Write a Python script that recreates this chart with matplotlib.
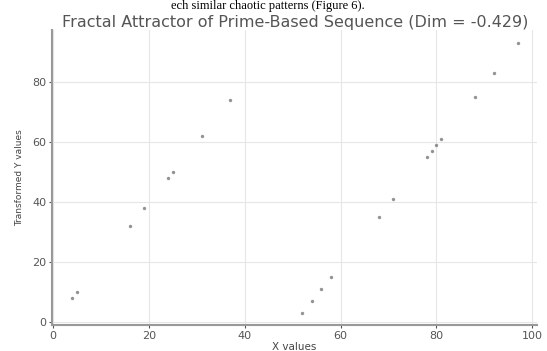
import matplotlib
matplotlib.use("Agg")
import matplotlib.pyplot as plt

x_vals = [4, 5, 16, 19, 24, 25, 31, 37, 52, 54, 56, 58, 68, 71, 78, 79, 80, 81, 88, 92, 97]
y_vals = [8, 10, 32, 38, 48, 50, 62, 74, 3, 7, 11, 15, 35, 41, 55, 57, 59, 61, 75, 83, 93]
x_ticks = [0, 20, 40, 60, 80, 100]
y_ticks = [0, 20, 40, 60, 80]
title = "Fractal Attractor of Prime-Based Sequence (Dim = -0.429)"

W, H = 547, 351
fig = plt.figure(figsize=(W / 100, H / 100), dpi=100)
L, R, B, T = 52, 537, 325, 30
ax = fig.add_axes([L / W, 1 - B / H, (R - L) / W, (B - T) / H])

ax.scatter(x_vals, y_vals, s=6, color="#666666", alpha=0.7, linewidths=0)

ax.set_xlim(-0.2, 101.0)
ax.set_ylim(-1, 97.3)
ax.set_xticks(x_ticks)
ax.set_yticks(y_ticks)
ax.grid(True, color="#e6e6e6", linewidth=0.8)
ax.set_axisbelow(True)
for s in ["top", "right"]:
    ax.spines[s].set_visible(False)
for s in ["left", "bottom"]:
    ax.spines[s].set_color("#999999")
    ax.spines[s].set_linewidth(1.5)
ax.tick_params(axis="both", labelsize=8, colors="#555555", length=2, width=0.8, pad=2)
ax.set_xlabel("X values", fontsize=7.5, color="#444444", labelpad=1)
ax.set_ylabel("Transformed Y values", fontsize=6.5, color="#444444", labelpad=6)

fig.text(0.54, 1 - 22 / H, title, ha="center", va="center", fontsize=11.5, color="#555555")
fig.text(0.49, 1.0, "ech similar chaotic patterns (Figure 6).", ha="center", va="top",
         fontsize=9, family="Liberation Serif", color="black")

fig.savefig("out.png", dpi=100)
